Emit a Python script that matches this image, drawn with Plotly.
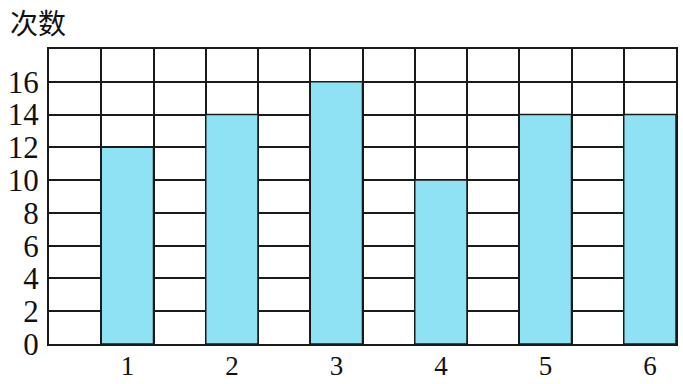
import plotly.graph_objects as go

categories = [1, 2, 3, 4, 5, 6]
counts = [12, 14, 16, 10, 14, 14]
y_ticks = [0, 2, 4, 6, 8, 10, 12, 14, 16]
y_title = "次数"

line_col = "#1a1a1a"
bar_col = "#8FE2F4"
serif = "Liberation Serif, Times New Roman, serif"

fig = go.Figure()
fig.add_trace(go.Bar(
    x=categories, y=counts, width=0.5,
    marker=dict(color=bar_col, line=dict(color=line_col, width=1.5)),
))

W, H = 683, 384
ml, mr, mt, mb = 49, 7, 49, 40

fig.update_layout(
    width=W, height=H,
    margin=dict(l=ml, r=mr, t=mt, b=mb, autoexpand=False),
    paper_bgcolor="white", plot_bgcolor="white",
    showlegend=False,
    font=dict(family=serif, color="#111"),
    xaxis=dict(
        range=[0.25, 6.25], automargin=False,
        tickvals=categories, ticktext=[str(c) for c in categories],
        showgrid=False, ticks="", ticklen=0, zeroline=False,
        showline=True, linecolor=line_col, linewidth=2, mirror=True,
        tickfont=dict(size=27, family=serif),
        ticklabelstandoff=-3,
        minor=dict(tick0=0.25, dtick=0.5, showgrid=True,
                   gridcolor=line_col, gridwidth=1.5, ticks=""),
    ),
    yaxis=dict(
        range=[0, 18], tickvals=y_ticks, automargin=False,
        showgrid=True, gridcolor=line_col, gridwidth=1.5,
        zeroline=False, ticks="",
        showline=True, linecolor=line_col, linewidth=2, mirror=True,
        tickfont=dict(size=31, family=serif),
        ticklabelstandoff=2,
    ),
    annotations=[dict(
        text=y_title, xref="paper", yref="paper",
        x=(8 - ml) / (W - ml - mr), y=(H - mb - 22) / (H - mt - mb),
        xanchor="left", yanchor="middle", showarrow=False,
        font=dict(size=28, family="Noto Sans CJK SC", color="#111"),
    )],
)

fig.write_html("out.html")
